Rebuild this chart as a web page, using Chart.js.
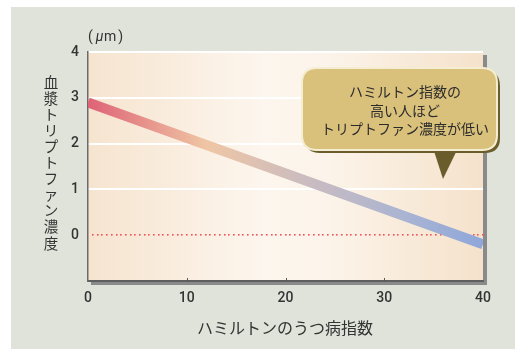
<!DOCTYPE html>
<html lang="ja">
<head>
<meta charset="utf-8">
<title>ハミルトンのうつ病指数と血漿トリプトファン濃度</title>
<script src="https://cdn.jsdelivr.net/npm/chart.js@4.4.1/dist/chart.umd.min.js"></script>
<style>
  html, body { margin: 0; padding: 0; background: #ffffff; }
  #wrap { position: relative; width: 515px; height: 349px; }
  canvas { display: block; }
</style>
</head>
<body>
<div id="wrap"><canvas id="chart" width="515" height="349"></canvas></div>
<script>
// Hamilton depression score (x) against plasma tryptophan (y, μm)
const hamiltonScore = [0, 40];
const tryptophan = [2.9, -0.2];
const xTicks = [0, 10, 20, 30, 40];
const yTicks = [0, 1, 2, 3, 4];

const yTitle = '血漿トリプトファン濃度';
const xTitle = 'ハミルトンのうつ病指数';
const unitParts = ['(', 'μ', 'm', ')'];
const noteLines = ['ハミルトン指数の', '高い人ほど', 'トリプトファン濃度が低い'];

const JP = '"Noto Sans CJK JP", "Noto Sans", sans-serif';
const NUM = 'Roboto, "Liberation Sans", sans-serif';
const INK = '#333333';

// Gradient stroke for the regression band, red → peach → grey → blue
function bandGradient(ctx) {
  const area = ctx.chart.chartArea;
  if (!area) return '#d08090';
  const g = ctx.chart.ctx.createLinearGradient(area.left, 0, area.right, 0);
  g.addColorStop(0.00, '#df6276');
  g.addColorStop(0.30, '#efc6a4');
  g.addColorStop(0.55, '#cbbcc0');
  g.addColorStop(0.80, '#aab4d2');
  g.addColorStop(1.00, '#8ea7da');
  return g;
}

function roundRect(ctx, x, y, w, h, r) {
  ctx.beginPath();
  ctx.moveTo(x + r, y);
  ctx.lineTo(x + w - r, y);
  ctx.quadraticCurveTo(x + w, y, x + w, y + r);
  ctx.lineTo(x + w, y + h - r);
  ctx.quadraticCurveTo(x + w, y + h, x + w - r, y + h);
  ctx.lineTo(x + r, y + h);
  ctx.quadraticCurveTo(x, y + h, x, y + h - r);
  ctx.lineTo(x, y + r);
  ctx.quadraticCurveTo(x, y, x + r, y);
  ctx.closePath();
}

const decor = {
  id: 'decor',
  beforeDraw(chart) {
    const { ctx, chartArea: a } = chart;
    ctx.save();
    ctx.fillStyle = '#ffffff';
    ctx.fillRect(0, 0, chart.width, chart.height);
    ctx.fillStyle = '#dfe3d9';
    ctx.fillRect(11, 7, chart.width - 11, chart.height - 7);
    // panel shadow
    ctx.fillStyle = '#8a8a8a';
    ctx.fillRect(a.left + 3, a.top + 3, a.right - a.left + 1, a.bottom - a.top + 1);
    // panel fill
    const g = ctx.createLinearGradient(a.left, 0, a.right, 0);
    g.addColorStop(0.0, '#f6e4cf');
    g.addColorStop(0.45, '#fdf6ee');
    g.addColorStop(0.6, '#fcf4ea');
    g.addColorStop(1.0, '#f5e2cb');
    ctx.fillStyle = g;
    ctx.fillRect(a.left, a.top, a.right - a.left, a.bottom - a.top);
    ctx.restore();
  },
  beforeDatasetsDraw(chart) {
    // dotted zero line
    const { ctx, chartArea: a, scales } = chart;
    const y0 = Math.round(scales.y.getPixelForValue(0));
    ctx.save();
    ctx.fillStyle = '#f0505c';
    for (let x = a.left + 4; x < a.right; x += 4.7) {
      ctx.fillRect(Math.round(x), y0 - 1, 1.6, 1.6);
    }
    ctx.restore();
  },
  afterDraw(chart) {
    const { ctx, chartArea: a, scales } = chart;
    ctx.save();
    // small inward ticks on the x axis
    ctx.strokeStyle = '#555555';
    ctx.lineWidth = 1;
    xTicks.slice(1, -1).forEach(v => {
      const x = Math.round(scales.x.getPixelForValue(v)) + 0.5;
      ctx.beginPath();
      ctx.moveTo(x, a.bottom);
      ctx.lineTo(x, a.bottom - 3);
      ctx.stroke();
    });

    // unit label
    ctx.fillStyle = INK;
    ctx.textAlign = 'left';
    ctx.textBaseline = 'middle';
    let ux = a.left;
    unitParts.forEach((p, i) => {
      ctx.font = (p === 'μ' ? 'italic ' : '') + '14px ' + NUM;
      ctx.fillText(p, ux, 37);
      ux += ctx.measureText(p).width + (i === 0 ? 3 : i === 2 ? 2 : 0.5);
    });

    // vertical y title, one character per row
    ctx.font = '14.5px ' + JP;
    ctx.textAlign = 'center';
    [...yTitle].forEach((ch, i) => ctx.fillText(ch, 51, 82 + i * 16.1));

    // x title
    ctx.font = '16px ' + JP;
    ctx.fillText(xTitle, 285, 328);

    // callout
    const bx = 302, by = 68, bw = 195, bh = 82;
    ctx.fillStyle = '#6b5d2b';
    roundRect(ctx, bx + 3, by + 3, bw, bh, 15);
    ctx.fill();
    ctx.beginPath();
    ctx.moveTo(433, by + bh - 2);
    ctx.lineTo(458, by + bh - 2);
    ctx.lineTo(443, 179);
    ctx.closePath();
    ctx.fill();
    ctx.fillStyle = '#d9c07b';
    ctx.strokeStyle = '#f4edd2';
    ctx.lineWidth = 2;
    roundRect(ctx, bx, by, bw, bh, 15);
    ctx.fill();
    ctx.stroke();
    ctx.fillStyle = '#2b2b2b';
    ctx.font = '14px ' + JP;
    noteLines.forEach((t, i) => ctx.fillText(t, 405, 92 + i * 18.5));
    ctx.restore();
  }
};

new Chart(document.getElementById('chart'), {
  type: 'line',
  data: {
    datasets: [{
      data: hamiltonScore.map((x, i) => ({ x, y: tryptophan[i] })),
      borderColor: bandGradient,
      borderWidth: 10,
      borderCapStyle: 'butt',
      pointRadius: 0,
      tension: 0,
      clip: 0
    }]
  },
  options: {
    responsive: false,
    animation: false,
    events: [],
    layout: { padding: { top: 52, right: 32, left: 0, bottom: 0 } },
    plugins: { legend: { display: false }, tooltip: { enabled: false } },
    scales: {
      x: {
        type: 'linear',
        min: 0, max: 40,
        afterBuildTicks(scale) { scale.ticks = xTicks.map(v => ({ value: v })); },
        afterFit(scale) { scale.height = 68; },
        grid: { display: false, drawTicks: false },
        border: { display: true, color: '#5e5e5e', width: 2 },
        ticks: { padding: 9, color: INK, font: { family: NUM, size: 14, weight: '500' }, maxRotation: 0 }
      },
      y: {
        min: -1, max: 4,
        afterBuildTicks(scale) { scale.ticks = [-1, ...yTicks].map(v => ({ value: v })); },
        afterFit(scale) { scale.width = 88; },
        grid: {
          drawTicks: false,
          lineWidth: 2,
          color: c => (c.tick && c.tick.value > 0 ? '#ffffff' : 'rgba(0,0,0,0)')
        },
        border: { display: true, color: '#6a6a6a', width: 1.5 },
        ticks: {
          padding: 9,
          color: INK,
          font: { family: NUM, size: 14, weight: '500' },
          callback: v => (yTicks.includes(v) ? String(v) : '')
        }
      }
    }
  },
  plugins: [decor]
});
</script>
</body>
</html>
